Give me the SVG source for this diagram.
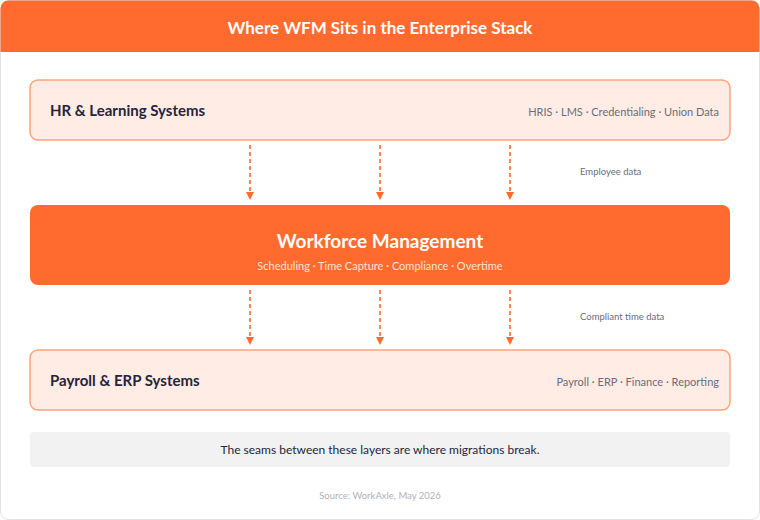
<svg xmlns="http://www.w3.org/2000/svg" width="760" height="520" viewBox="0 0 760 520">
<style>
text{font-family:Lato,"Noto Sans","Liberation Sans",sans-serif}
.layer{fill:#FFEDE5;stroke:#FFA27C;stroke-width:1.5}
.lt{font-size:15px;font-weight:700;fill:#25243A}
.ls{font-size:11px;fill:#6B6B7B;text-anchor:end}
.cl{font-size:9.5px;fill:#6B6B7B}
.ar{stroke:#FF6B2F;stroke-width:1.6;stroke-dasharray:4 3;fill:none}
</style>
<defs><marker id="ah" markerWidth="8" markerHeight="8" refX="4" refY="7" orient="auto" markerUnits="userSpaceOnUse" viewBox="0 0 8 8"><path d="M0,0 L8,0 L4,8 Z" fill="#FF6B2F" transform="rotate(-90 4 4)"/></marker></defs>
<rect x="0.5" y="0.5" width="759" height="519" rx="8" fill="#fff" stroke="#E2E2E2"/>
<path d="M0.5,52 V8.5 a8,8 0 0 1 8,-8 H751.5 a8,8 0 0 1 8,8 V52 Z" fill="#FF6B2F"/>
<text x="380" y="34" text-anchor="middle" font-size="17" font-weight="700" fill="#fff">Where WFM Sits in the Enterprise Stack</text>
<g id="hr"><rect class="layer" x="30" y="80" width="700" height="60" rx="8"/>
<text class="lt" x="50" y="116">HR &amp; Learning Systems</text>
<text class="ls" x="719" y="116">HRIS · LMS · Credentialing · Union Data</text></g>
<g id="wfm"><rect x="30" y="205" width="700" height="80" rx="8" fill="#FF6B2F"/>
<text x="380" y="248" text-anchor="middle" font-size="19" font-weight="700" fill="#fff">Workforce Management</text>
<text x="380" y="270" text-anchor="middle" font-size="11" fill="#FFE3D6">Scheduling · Time Capture · Compliance · Overtime</text></g>
<g id="payroll"><rect class="layer" x="30" y="350" width="700" height="60" rx="8"/>
<text class="lt" x="50" y="386">Payroll &amp; ERP Systems</text>
<text class="ls" x="719" y="386">Payroll · ERP · Finance · Reporting</text></g>
<g id="note"><rect x="30" y="432" width="700" height="35" rx="4" fill="#F2F2F2"/>
<text x="380" y="454" text-anchor="middle" font-size="12" fill="#25243A">The seams between these layers are where migrations break.</text></g>
<g id="connectors">
<path class="ar" d="M250,145 V198 M380,145 V198 M510,145 V198 M250,290 V343 M380,290 V343 M510,290 V343"/>
<path d="M246,192 h8 l-4,8 z M376,192 h8 l-4,8 z M506,192 h8 l-4,8 z M246,337 h8 l-4,8 z M376,337 h8 l-4,8 z M506,337 h8 l-4,8 z" fill="#FF6B2F"/>
<text class="cl" x="580" y="175">Employee data</text>
<text class="cl" x="580" y="320">Compliant time data</text>
</g>
<text x="380" y="499" text-anchor="middle" font-size="9.5" fill="#B0B0B8">Source: WorkAxle, May 2026</text>
</svg>
